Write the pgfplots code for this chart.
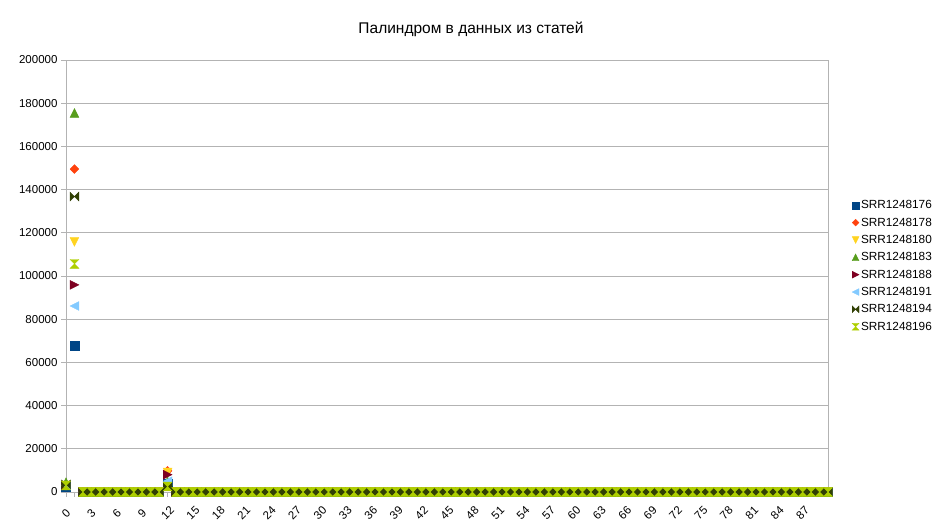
\documentclass[border=0pt]{standalone}
\usepackage{fontspec}
\setmainfont{Liberation Sans}
\usepackage{pgfplots}
\pgfplotsset{compat=1.18}
\usepackage{pgfplotstable}

\definecolor{gridgray}{HTML}{B3B3B3}
\definecolor{c1}{HTML}{004586}
\definecolor{c2}{HTML}{FF420E}
\definecolor{c3}{HTML}{FFD320}
\definecolor{c4}{HTML}{579D1C}
\definecolor{c5}{HTML}{7E0021}
\definecolor{c6}{HTML}{83CAFF}
\definecolor{c7}{HTML}{314004}
\definecolor{c8}{HTML}{AECF00}

% marks in a square box, like the office symbols
\pgfdeclareplotmark{lsq}{%
  \pgfpathrectangle{\pgfqpoint{-\pgfplotmarksize}{-\pgfplotmarksize}}{\pgfqpoint{2\pgfplotmarksize}{2\pgfplotmarksize}}%
  \pgfusepathqfillstroke}
\pgfdeclareplotmark{ldia}{%
  \pgfpathmoveto{\pgfqpoint{0pt}{\pgfplotmarksize}}%
  \pgfpathlineto{\pgfqpoint{\pgfplotmarksize}{0pt}}%
  \pgfpathlineto{\pgfqpoint{0pt}{-\pgfplotmarksize}}%
  \pgfpathlineto{\pgfqpoint{-\pgfplotmarksize}{0pt}}%
  \pgfpathclose\pgfusepathqfillstroke}
\pgfdeclareplotmark{lup}{%
  \pgfpathmoveto{\pgfqpoint{-\pgfplotmarksize}{-\pgfplotmarksize}}%
  \pgfpathlineto{\pgfqpoint{\pgfplotmarksize}{-\pgfplotmarksize}}%
  \pgfpathlineto{\pgfqpoint{0pt}{\pgfplotmarksize}}%
  \pgfpathclose\pgfusepathqfillstroke}
\pgfdeclareplotmark{ldown}{%
  \pgfpathmoveto{\pgfqpoint{-\pgfplotmarksize}{\pgfplotmarksize}}%
  \pgfpathlineto{\pgfqpoint{\pgfplotmarksize}{\pgfplotmarksize}}%
  \pgfpathlineto{\pgfqpoint{0pt}{-\pgfplotmarksize}}%
  \pgfpathclose\pgfusepathqfillstroke}
\pgfdeclareplotmark{lright}{%
  \pgfpathmoveto{\pgfqpoint{-\pgfplotmarksize}{\pgfplotmarksize}}%
  \pgfpathlineto{\pgfqpoint{-\pgfplotmarksize}{-\pgfplotmarksize}}%
  \pgfpathlineto{\pgfqpoint{\pgfplotmarksize}{0pt}}%
  \pgfpathclose\pgfusepathqfillstroke}
\pgfdeclareplotmark{lleft}{%
  \pgfpathmoveto{\pgfqpoint{\pgfplotmarksize}{\pgfplotmarksize}}%
  \pgfpathlineto{\pgfqpoint{\pgfplotmarksize}{-\pgfplotmarksize}}%
  \pgfpathlineto{\pgfqpoint{-\pgfplotmarksize}{0pt}}%
  \pgfpathclose\pgfusepathqfillstroke}
\pgfdeclareplotmark{lbow}{%
  \pgfpathmoveto{\pgfqpoint{-\pgfplotmarksize}{\pgfplotmarksize}}%
  \pgfpathlineto{\pgfqpoint{\pgfplotmarksize}{-\pgfplotmarksize}}%
  \pgfpathlineto{\pgfqpoint{\pgfplotmarksize}{\pgfplotmarksize}}%
  \pgfpathlineto{\pgfqpoint{-\pgfplotmarksize}{-\pgfplotmarksize}}%
  \pgfpathclose\pgfusepathqfillstroke}
\pgfdeclareplotmark{lhour}{%
  \pgfpathmoveto{\pgfqpoint{-\pgfplotmarksize}{\pgfplotmarksize}}%
  \pgfpathlineto{\pgfqpoint{\pgfplotmarksize}{\pgfplotmarksize}}%
  \pgfpathlineto{\pgfqpoint{-\pgfplotmarksize}{-\pgfplotmarksize}}%
  \pgfpathlineto{\pgfqpoint{\pgfplotmarksize}{-\pgfplotmarksize}}%
  \pgfpathclose\pgfusepathqfillstroke}

\pgfplotstableread{
x s176 s178 s180 s183 s188 s191 s194 s196
0 2500 3500 3000 4500 3000 3000 3500 3000
1 67800 149500 115800 175500 95900 86100 136800 105600
2 0 0 0 0 0 0 0 0
3 0 0 0 0 0 0 0 0
4 0 0 0 0 0 0 0 0
5 0 0 0 0 0 0 0 0
6 0 0 0 0 0 0 0 0
7 0 0 0 0 0 0 0 0
8 0 0 0 0 0 0 0 0
9 0 0 0 0 0 0 0 0
10 0 0 0 0 0 0 0 0
11 0 0 0 0 0 0 0 0
12 4000 9800 9000 5000 8000 5000 2500 2500
13 0 0 0 0 0 0 0 0
14 0 0 0 0 0 0 0 0
15 0 0 0 0 0 0 0 0
16 0 0 0 0 0 0 0 0
17 0 0 0 0 0 0 0 0
18 0 0 0 0 0 0 0 0
19 0 0 0 0 0 0 0 0
20 0 0 0 0 0 0 0 0
21 0 0 0 0 0 0 0 0
22 0 0 0 0 0 0 0 0
23 0 0 0 0 0 0 0 0
24 0 0 0 0 0 0 0 0
25 0 0 0 0 0 0 0 0
26 0 0 0 0 0 0 0 0
27 0 0 0 0 0 0 0 0
28 0 0 0 0 0 0 0 0
29 0 0 0 0 0 0 0 0
30 0 0 0 0 0 0 0 0
31 0 0 0 0 0 0 0 0
32 0 0 0 0 0 0 0 0
33 0 0 0 0 0 0 0 0
34 0 0 0 0 0 0 0 0
35 0 0 0 0 0 0 0 0
36 0 0 0 0 0 0 0 0
37 0 0 0 0 0 0 0 0
38 0 0 0 0 0 0 0 0
39 0 0 0 0 0 0 0 0
40 0 0 0 0 0 0 0 0
41 0 0 0 0 0 0 0 0
42 0 0 0 0 0 0 0 0
43 0 0 0 0 0 0 0 0
44 0 0 0 0 0 0 0 0
45 0 0 0 0 0 0 0 0
46 0 0 0 0 0 0 0 0
47 0 0 0 0 0 0 0 0
48 0 0 0 0 0 0 0 0
49 0 0 0 0 0 0 0 0
50 0 0 0 0 0 0 0 0
51 0 0 0 0 0 0 0 0
52 0 0 0 0 0 0 0 0
53 0 0 0 0 0 0 0 0
54 0 0 0 0 0 0 0 0
55 0 0 0 0 0 0 0 0
56 0 0 0 0 0 0 0 0
57 0 0 0 0 0 0 0 0
58 0 0 0 0 0 0 0 0
59 0 0 0 0 0 0 0 0
60 0 0 0 0 0 0 0 0
61 0 0 0 0 0 0 0 0
62 0 0 0 0 0 0 0 0
63 0 0 0 0 0 0 0 0
64 0 0 0 0 0 0 0 0
65 0 0 0 0 0 0 0 0
66 0 0 0 0 0 0 0 0
67 0 0 0 0 0 0 0 0
68 0 0 0 0 0 0 0 0
69 0 0 0 0 0 0 0 0
70 0 0 0 0 0 0 0 0
71 0 0 0 0 0 0 0 0
72 0 0 0 0 0 0 0 0
73 0 0 0 0 0 0 0 0
74 0 0 0 0 0 0 0 0
75 0 0 0 0 0 0 0 0
76 0 0 0 0 0 0 0 0
77 0 0 0 0 0 0 0 0
78 0 0 0 0 0 0 0 0
79 0 0 0 0 0 0 0 0
80 0 0 0 0 0 0 0 0
81 0 0 0 0 0 0 0 0
82 0 0 0 0 0 0 0 0
83 0 0 0 0 0 0 0 0
84 0 0 0 0 0 0 0 0
85 0 0 0 0 0 0 0 0
86 0 0 0 0 0 0 0 0
87 0 0 0 0 0 0 0 0
88 0 0 0 0 0 0 0 0
89 0 0 0 0 0 0 0 0
90 0 0 0 0 0 0 0 0
}\datatable

\begin{document}
\begin{tikzpicture}
\useasboundingbox (0,0) rectangle (943pt,530pt);
\node[font=\fontsize{15.5}{18}\selectfont] at (471pt,501pt) {Палиндром в данных из статей};
\begin{axis}[
  at={(66pt,38pt)}, anchor=south west,
  scale only axis, width=762pt, height=432pt,
  xmin=0, xmax=90, ymin=0, ymax=200000,
  xtick={0,3,...,87},
  minor x tick num=2,
  ytick={0,20000,...,200000},
  scaled y ticks=false,
  /pgf/number format/fixed,
  /pgf/number format/precision=0,
  /pgf/number format/1000 sep={},
  /pgf/number format/assume math mode=true,
  ticklabel style={font=\fontsize{11.5}{13}\selectfont, text=black},
  xticklabel style={yshift=-16pt, rotate=45, anchor=center},
  tick pos=left,
  tick align=outside, major tick length=5pt, minor tick length=5pt,
  tick style={gridgray, line width=0.6pt},
  axis line style={gridgray, line width=0.8pt},
  ymajorgrids, grid style={gridgray, line width=0.8pt},
  clip=false,
  mark size=4.4pt,
  legend style={at={(1,0.5)}, anchor=west, xshift=23pt, yshift=10pt,
    draw=none, fill=none, font=\fontsize{11.8}{13}\selectfont,
    row sep=3.6pt, inner sep=1pt},
  legend cell align=left,
  legend image code/.code={\draw[#1, mark size=3.4pt] plot coordinates {(0.12cm,0cm)};},
]
\addplot[only marks, color=c1, mark=lsq] table[x=x, y=s176] {\datatable};
\addlegendentry{SRR1248176}
\addplot[only marks, color=c2, mark=ldia] table[x=x, y=s178] {\datatable};
\addlegendentry{SRR1248178}
\addplot[only marks, color=c3, mark=ldown] table[x=x, y=s180] {\datatable};
\addlegendentry{SRR1248180}
\addplot[only marks, color=c4, mark=lup] table[x=x, y=s183] {\datatable};
\addlegendentry{SRR1248183}
\addplot[only marks, color=c5, mark=lright] table[x=x, y=s188] {\datatable};
\addlegendentry{SRR1248188}
\addplot[only marks, color=c6, mark=lleft] table[x=x, y=s191] {\datatable};
\addlegendentry{SRR1248191}
\addplot[only marks, color=c7, mark=lbow] table[x=x, y=s194] {\datatable};
\addlegendentry{SRR1248194}
\addplot[only marks, color=c8, mark=lhour] table[x=x, y=s196] {\datatable};
\addlegendentry{SRR1248196}
\end{axis}
\end{tikzpicture}
\end{document}
